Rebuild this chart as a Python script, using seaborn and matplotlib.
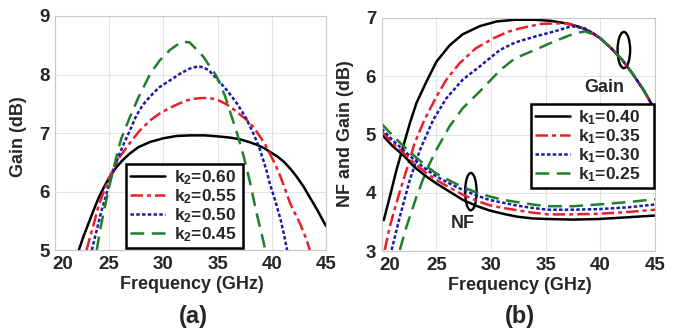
import numpy as np
import pandas as pd
import matplotlib
matplotlib.use("Agg")
import matplotlib.pyplot as plt
import matplotlib.transforms as mtransforms
from matplotlib.patches import Ellipse
import seaborn as sns

# ---------------- data: panel (a) Gain vs frequency for k2 ----------------
a_labels = ["$k_2$=0.60", "$k_2$=0.55", "$k_2$=0.50", "$k_2$=0.45"]
a_f_060 = [22.2, 22.6, 23.1, 23.6, 24.0, 24.5, 25.0, 25.6, 26.2, 26.9, 27.7, 28.8, 30.0, 31.2, 32.5,
           33.8, 35.2, 36.2, 37.1, 38.0, 38.6, 39.3, 39.8, 40.5, 41.1, 41.7, 42.3, 42.9, 43.5, 44.2, 44.9, 45.0]
a_g_060 = [5.0, 5.22, 5.46, 5.7, 5.88, 6.07, 6.24, 6.4, 6.53, 6.65, 6.76, 6.85, 6.91, 6.95, 6.96,
           6.96, 6.94, 6.92, 6.89, 6.84, 6.8, 6.74, 6.68, 6.6, 6.51, 6.39, 6.25, 6.09, 5.9, 5.68, 5.44, 5.41]
a_f_055 = [22.9, 23.4, 24.0, 24.5, 25.0, 25.5, 26.0, 26.9, 27.8, 28.8, 29.7, 30.6, 31.4, 32.2, 33.0, 33.7,
           34.5, 35.2, 35.9, 36.5, 37.1, 37.7, 38.3, 38.9, 39.4, 39.8, 40.3, 40.8, 41.2, 41.7, 42.2, 42.6, 43.1, 43.5]
a_g_055 = [5.0, 5.33, 5.74, 6.0, 6.24, 6.42, 6.6, 6.83, 7.04, 7.22, 7.34, 7.43, 7.5, 7.56, 7.59, 7.6,
           7.59, 7.55, 7.48, 7.4, 7.31, 7.22, 7.1, 6.94, 6.8, 6.65, 6.47, 6.25, 6.05, 5.79, 5.6, 5.45, 5.22, 5.0]
a_f_050 = [23.4, 23.9, 24.3, 24.7, 25.0, 25.4, 25.9, 26.4, 26.9, 27.5, 28.1, 28.8, 29.6, 30.6, 31.5, 32.4,
           33.2, 33.7, 34.2, 34.6, 35.2, 35.9, 36.8, 37.6, 38.3, 38.8, 39.2, 39.5, 39.8, 40.3, 40.8, 41.1, 41.4]
a_g_050 = [5.0, 5.38, 5.68, 5.93, 6.14, 6.37, 6.62, 6.84, 7.04, 7.3, 7.48, 7.63, 7.78, 7.9, 8.01, 8.1,
           8.14, 8.12, 8.07, 7.99, 7.87, 7.72, 7.5, 7.26, 6.99, 6.77, 6.54, 6.36, 6.14, 5.85, 5.52, 5.28, 5.0]
a_f_045 = [23.85, 24.2, 24.6, 24.9, 25.2, 25.6, 26.1, 26.9, 27.7, 28.8, 29.7, 30.6, 31.2, 31.8, 32.4, 33.1,
           33.7, 34.3, 34.8, 35.2, 35.7, 36.1, 36.5, 36.8, 37.1, 37.4, 37.7, 38.0, 38.3, 38.6, 39.0, 39.4]
a_g_045 = [5.0, 5.38, 5.74, 6.0, 6.24, 6.55, 6.9, 7.27, 7.61, 8.02, 8.25, 8.42, 8.5, 8.56, 8.55, 8.42,
           8.3, 8.13, 8.0, 7.85, 7.62, 7.39, 7.16, 6.99, 6.79, 6.6, 6.38, 6.14, 5.88, 5.62, 5.32, 5.0]

# ---------------- data: panel (b) Gain and NF for k1 ----------------
b_labels = ["$k_1$=0.40", "$k_1$=0.35", "$k_1$=0.30", "$k_1$=0.25"]
b_gain_tail_f = [40.0, 41.0, 42.0, 43.0, 44.0, 45.0]
b_gain_tail_g = [6.65, 6.48, 6.28, 6.03, 5.75, 5.42]
b_gf_040 = [20.18, 20.73, 21.34, 21.95, 22.56, 23.17, 24.09, 25.0, 26.2, 27.4, 28.97, 30.5, 32.2, 34.0,
            35.5, 37.1, 38.2, 39.0]
b_gg_040 = [3.53, 3.93, 4.39, 4.79, 5.19, 5.54, 5.91, 6.25, 6.53, 6.72, 6.86, 6.94, 6.97, 6.97,
            6.95, 6.9, 6.84, 6.77]
b_gf_035 = [20.27, 20.73, 21.5, 22.26, 23.0, 23.9, 25.0, 25.9, 27.1, 28.6, 30.2, 31.5, 32.6, 34.6,
            36.8, 38.3, 39.3]
b_gg_035 = [3.02, 3.42, 3.93, 4.39, 4.85, 5.25, 5.65, 5.94, 6.22, 6.48, 6.65, 6.76, 6.82, 6.9,
            6.91, 6.83, 6.74]
b_gf_030 = [20.9, 21.65, 22.56, 23.5, 24.7, 25.9, 27.4, 28.97, 30.8, 32.2, 34.0, 35.8, 37.4, 38.6, 39.5]
b_gg_030 = [3.02, 3.59, 4.22, 4.74, 5.25, 5.62, 5.94, 6.17, 6.45, 6.58, 6.68, 6.77, 6.86, 6.82, 6.72]
b_gf_025 = [21.65, 22.26, 23.17, 24.09, 25.0, 26.2, 27.4, 28.97, 30.8, 32.2, 34.0, 35.8, 37.7, 38.6, 39.5]
b_gg_025 = [3.02, 3.42, 3.93, 4.39, 4.74, 5.14, 5.45, 5.74, 6.1, 6.31, 6.45, 6.6, 6.74, 6.77, 6.71]

b_nf_f = [20.0, 21.0, 22.0, 23.0, 24.0, 25.0, 26.2, 27.4, 28.6, 29.8, 31.1, 32.4, 33.8, 35.2,
          37.5, 39.8, 42.5, 45.0]
b_nf_040 = [5.0, 4.8, 4.64, 4.44, 4.29, 4.16, 4.02, 3.88, 3.78, 3.7, 3.64, 3.59, 3.56, 3.55,
            3.54, 3.55, 3.58, 3.61]
b_nf_035 = [5.05, 4.85, 4.68, 4.5, 4.35, 4.22, 4.09, 3.97, 3.87, 3.79, 3.74, 3.70, 3.66, 3.63,
            3.63, 3.64, 3.67, 3.71]
b_nf_030 = [5.1, 4.9, 4.73, 4.56, 4.41, 4.28, 4.16, 4.05, 3.96, 3.88, 3.83, 3.78, 3.74, 3.71,
            3.71, 3.72, 3.75, 3.8]
b_nf_025 = [5.18, 4.98, 4.8, 4.63, 4.47, 4.33, 4.21, 4.1, 4.01, 3.94, 3.88, 3.84, 3.8, 3.77,
            3.77, 3.8, 3.84, 3.89]

x_ticks = [20, 25, 30, 35, 40, 45]
a_y_ticks = [5, 6, 7, 8, 9]
b_y_ticks = [3, 4, 5, 6, 7]

# ---------------- build tables ----------------
def long(fs, vs, labels):
    rows = []
    for f, v, lab in zip(fs, vs, labels):
        rows.append(pd.DataFrame({"f": f, "v": v, "k": lab}))
    return pd.concat(rows, ignore_index=True)

df_a = long([a_f_060, a_f_055, a_f_050, a_f_045],
            [a_g_060, a_g_055, a_g_050, a_g_045], a_labels)
df_bg = long([b_gf_040 + b_gain_tail_f, b_gf_035 + b_gain_tail_f,
              b_gf_030 + b_gain_tail_f, b_gf_025 + b_gain_tail_f],
             [b_gg_040 + b_gain_tail_g, b_gg_035 + b_gain_tail_g,
              b_gg_030 + b_gain_tail_g, b_gg_025 + b_gain_tail_g], b_labels)
df_bn = long([b_nf_f] * 4, [b_nf_040, b_nf_035, b_nf_030, b_nf_025], b_labels)

# ---------------- style ----------------
sns.set_theme(style="whitegrid")
plt.rcParams["font.family"] = ["Liberation Sans", "DejaVu Sans"]
plt.rcParams["font.weight"] = "bold"
plt.rcParams["mathtext.fontset"] = "custom"
plt.rcParams["mathtext.rm"] = "Liberation Sans:bold"
plt.rcParams["mathtext.it"] = "Liberation Sans:bold"
plt.rcParams["mathtext.bf"] = "Liberation Sans:bold"

colors = ["#000000", "#e8202a", "#1a1aa8", "#1f7f2a"]
dash_list = ["", (5, 1.6, 1.6, 1.6), (1.4, 0.9), (5.5, 3)]

fig = plt.figure(figsize=(6.83, 3.33), dpi=100)
ax_a = fig.add_axes([0.0805, 0.249, 0.397, 0.703])
ax_b = fig.add_axes([0.559, 0.246, 0.400, 0.700])

pal_a = dict(zip(a_labels, colors))
dsh_a = dict(zip(a_labels, dash_list))
pal_b = dict(zip(b_labels, colors))
dsh_b = dict(zip(b_labels, dash_list))

sns.lineplot(data=df_a, x="f", y="v", hue="k", style="k", palette=pal_a,
             dashes=dsh_a, hue_order=a_labels, style_order=a_labels,
             sort=False, estimator=None, linewidth=1.8, ax=ax_a)
sns.lineplot(data=df_bg, x="f", y="v", hue="k", style="k", palette=pal_b,
             dashes=dsh_b, hue_order=b_labels, style_order=b_labels,
             sort=False, estimator=None, linewidth=1.8, ax=ax_b)
sns.lineplot(data=df_bn, x="f", y="v", hue="k", style="k", palette=pal_b,
             dashes=dsh_b, hue_order=b_labels, style_order=b_labels,
             sort=False, estimator=None, linewidth=1.8, ax=ax_b, legend=False)

shift = mtransforms.ScaledTranslation(8 / 100, 0, fig.dpi_scale_trans)
for ax, yt, ylab, ylc in [(ax_a, a_y_ticks, "Gain (dB)", (-0.105, 0.483)),
                          (ax_b, b_y_ticks, "NF and Gain (dB)", (-0.101, 0.506))]:
    ax.set_xlim(20, 45)
    ax.set_ylim(yt[0], yt[-1])
    ax.set_xticks(x_ticks)
    ax.set_yticks(yt)
    ax.set_xlabel("Frequency (GHz)", fontsize=13, fontweight="bold")
    ax.set_ylabel(ylab, fontsize=13, fontweight="bold")
    ax.xaxis.set_label_coords(0.505, -0.112)
    ax.yaxis.set_label_coords(*ylc)
    ax.grid(True, color="#e2e2e2", linewidth=0.8)
    ax.set_facecolor("white")
    for s in ax.spines.values():
        s.set_color("#c8c8c8")
        s.set_linewidth(0.8)
    ax.tick_params(axis="both", labelsize=13.5, direction="in",
                   length=3, color="#c8c8c8")
    ax.tick_params(axis="x", pad=4)
    ax.tick_params(axis="y", pad=4)
    for lbl in ax.get_xticklabels() + ax.get_yticklabels():
        lbl.set_fontweight("bold")
    first = ax.get_xticklabels()[0]
    first.set_transform(first.get_transform() + shift)

# legends
h, l = ax_a.get_legend_handles_labels()
ax_a.legend(h, l, loc="lower left", bbox_to_anchor=(0.262, 0.008, 0.432, 0.36),
            mode="expand", fancybox=False, frameon=True, edgecolor="black",
            framealpha=1, handlelength=2.0, handletextpad=0.5,
            labelspacing=0.02, borderpad=0.25, borderaxespad=0,
            prop={"weight": "bold", "size": 12.5})
ax_a.get_legend().get_frame().set_linewidth(1.8)

h, l = ax_b.get_legend_handles_labels()
ax_b.legend(h, l, loc="lower left", bbox_to_anchor=(0.545, 0.27, 0.452, 0.35),
            mode="expand", fancybox=False, frameon=True, edgecolor="black",
            framealpha=1, handlelength=2.0, handletextpad=0.5,
            labelspacing=0.02, borderpad=0.25, borderaxespad=0,
            prop={"weight": "bold", "size": 12.5})
ax_b.get_legend().get_frame().set_linewidth(1.8)

# annotations in (b)
ax_b.add_patch(Ellipse((28.15, 4.02), 1.05, 0.64, fill=False, edgecolor="black", linewidth=1.7))
ax_b.add_patch(Ellipse((42.15, 6.45), 1.15, 0.62, fill=False, edgecolor="black", linewidth=1.7))
ax_b.text(27.4, 3.48, "NF", fontsize=13, fontweight="bold", ha="center", va="center")
ax_b.text(40.4, 5.8, "Gain", fontsize=13, fontweight="bold", ha="center", va="center")

fig.text(193 / 683, 1 - 317 / 333, "(a)", fontsize=17, fontweight="bold", ha="center", va="center")
fig.text(520 / 683, 1 - 317 / 333, "(b)", fontsize=17, fontweight="bold", ha="center", va="center")

fig.savefig("out.png", dpi=100, facecolor="white")
